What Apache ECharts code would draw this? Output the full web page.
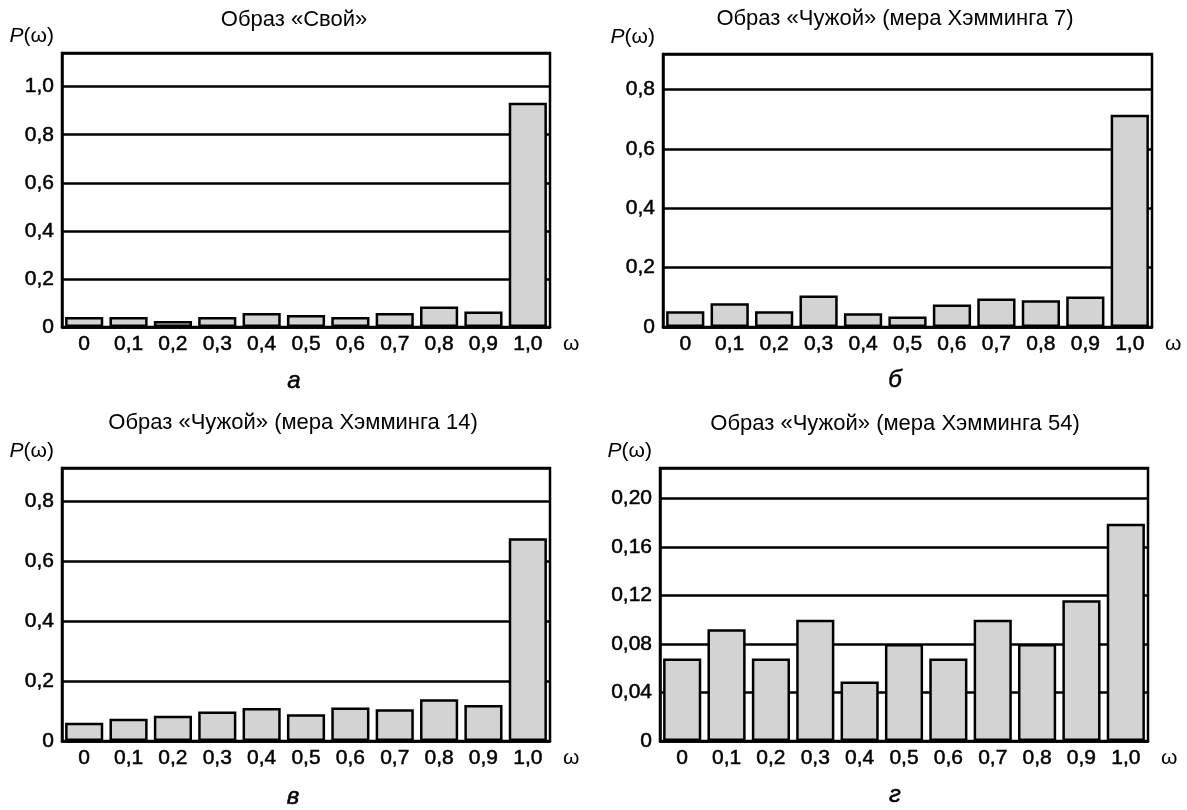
<!DOCTYPE html>
<html>
<head>
<meta charset="utf-8">
<title>P(ω)</title>
<script src="https://cdn.jsdelivr.net/npm/echarts@6/dist/echarts.min.js"></script>
<style>
  html, body { margin: 0; padding: 0; background: #fff; }
  #chart { width: 1187px; height: 810px; }
</style>
</head>
<body>
<div id="chart"></div>
<script>
// данные гистограмм
var categories = ['0', '0,1', '0,2', '0,3', '0,4', '0,5', '0,6', '0,7', '0,8', '0,9', '1,0'];

var valuesSvoi = [0.042, 0.042, 0.025, 0.042, 0.058, 0.050, 0.042, 0.058, 0.085, 0.064, 0.933];
var valuesHam7 = [0.053, 0.080, 0.053, 0.106, 0.046, 0.035, 0.076, 0.096, 0.090, 0.103, 0.715];
var valuesHam14 = [0.061, 0.074, 0.084, 0.098, 0.110, 0.089, 0.112, 0.106, 0.139, 0.120, 0.676];
var valuesHam54 = [0.068, 0.092, 0.068, 0.100, 0.049, 0.080, 0.068, 0.100, 0.080, 0.116, 0.179];

var titles = [
  'Образ «Свой»',
  'Образ «Чужой» (мера Хэмминга 7)',
  'Образ «Чужой» (мера Хэмминга 14)',
  'Образ «Чужой» (мера Хэмминга 54)'
];
var letters = ['а', 'б', 'в', 'г'];
var yMax = [1.14, 0.92, 0.91, 0.225];
var yStep = [0.2, 0.2, 0.2, 0.04];
var yDigits = [1, 1, 1, 2];

var allValues = [valuesSvoi, valuesHam7, valuesHam14, valuesHam54];

// расположение панелей
var panels = [
  { left: 62, top: 53, width: 488, height: 274, titleX: 294, titleY: 9, letterY: 381 },
  { left: 663, top: 54, width: 489, height: 273, titleX: 895, titleY: 8, letterY: 380 },
  { left: 62, top: 468, width: 488, height: 273, titleX: 293, titleY: 412, letterY: 797 },
  { left: 660, top: 468, width: 488, height: 273, titleX: 895, titleY: 413, letterY: 795 }
];

var FONT = '"Liberation Sans", Arial, sans-serif';
// лёгкая обводка текста — буквы на скане заметно жирнее
var INK = { textBorderColor: '#000', textBorderWidth: 0.5 };

var myChart = echarts.init(document.getElementById('chart'));

var grid = [], xAxis = [], yAxis = [], series = [], title = [], graphic = [];

panels.forEach(function (p, i) {
  grid.push({
    left: p.left, top: p.top, width: p.width, height: p.height,
    show: true, borderColor: '#000', borderWidth: 2.5, backgroundColor: 'transparent',
    containLabel: false
  });

  xAxis.push({
    type: 'category',
    gridIndex: i,
    data: categories,
    name: 'ω',
    nameLocation: 'end',
    nameGap: 13,
    nameTextStyle: { fontFamily: FONT, fontSize: 21, color: '#000', verticalAlign: 'top', padding: [7, 0, 0, 0] },
    axisLine: { show: true, lineStyle: { color: '#000', width: 2.5 } },
    axisTick: { show: false },
    axisLabel: Object.assign({ interval: 0, margin: 7, fontFamily: FONT, fontSize: 21, color: '#000' }, INK),
    splitLine: { show: false }
  });

  yAxis.push({
    type: 'value',
    gridIndex: i,
    min: 0,
    max: yMax[i],
    interval: yStep[i],
    name: '{i|P}(ω)',
    nameLocation: 'end',
    nameGap: 6,
    nameTextStyle: {
      fontFamily: FONT, fontSize: 21, color: '#000', align: 'right', padding: [0, 8, 0, 0],
      rich: { i: { fontFamily: FONT, fontSize: 21, fontStyle: 'italic', color: '#000' } }
    },
    axisLine: { show: true, lineStyle: { color: '#000', width: 2.5 } },
    axisTick: { show: false },
    axisLabel: Object.assign({
      showMaxLabel: false,
      margin: 8,
      fontFamily: FONT, fontSize: 21, color: '#000',
      formatter: function (v) {
        return v === 0 ? '0' : v.toFixed(yDigits[i]).replace('.', ',');
      }
    }, INK),
    splitLine: { show: true, lineStyle: { color: '#000', width: 2.5 } }
  });

  series.push({
    type: 'bar',
    xAxisIndex: i,
    yAxisIndex: i,
    data: allValues[i],
    barCategoryGap: '14%',
    itemStyle: { color: '#d3d3d3', borderColor: '#000', borderWidth: 2.5 }
  });

  title.push({
    text: titles[i],
    left: p.titleX,
    top: p.titleY,
    textAlign: 'center',
    padding: 0,
    textStyle: { fontFamily: FONT, fontSize: 22, fontWeight: 'normal', color: '#000' }
  });

  graphic.push({
    type: 'text',
    x: p.titleX,
    y: p.letterY,
    style: {
      text: letters[i],
      font: 'italic 24px ' + FONT,
      fill: '#000',
      stroke: '#000',
      lineWidth: 0.5,
      align: 'center',
      verticalAlign: 'middle'
    }
  });
});

var option = {
  backgroundColor: '#fff',
  animation: false,
  title: title,
  grid: grid,
  xAxis: xAxis,
  yAxis: yAxis,
  series: series,
  graphic: graphic
};

myChart.setOption(option);
</script>
</body>
</html>
